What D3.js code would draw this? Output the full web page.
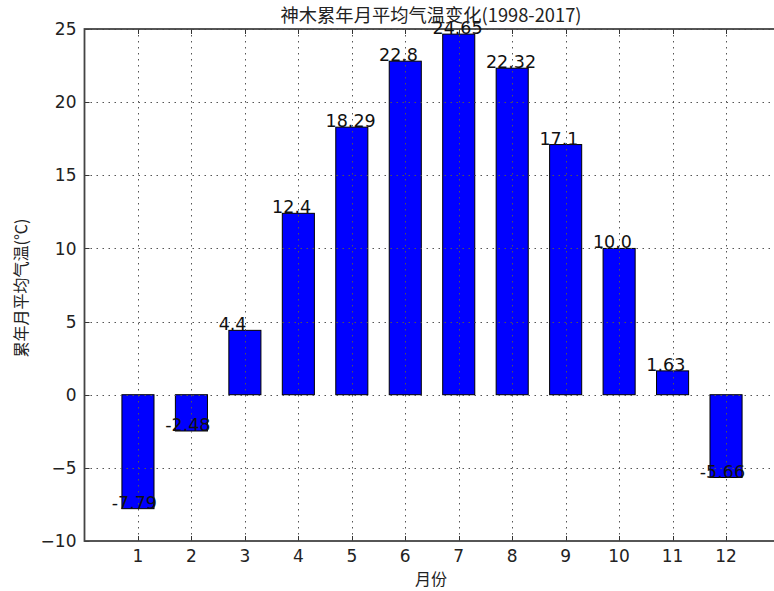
<!DOCTYPE html>
<html>
<head>
<meta charset="utf-8">
<script src="https://cdn.jsdelivr.net/npm/d3@7"></script>
<style>
	body { margin: 0; background: #fff; }
	svg { display: block; }
	.tick-label { font-family: "DejaVu Sans", sans-serif; font-size: 17px; fill: #222; }
	.value-label { font-family: "DejaVu Sans", sans-serif; font-size: 17.5px; fill: #111; }
	.cjk { font-family: "Noto Sans CJK SC", sans-serif; fill: #222; }
</style>
</head>
<body>
<script>
// monthly mean temperature, Shenmu 1998-2017
var months = [1, 2, 3, 4, 5, 6, 7, 8, 9, 10, 11, 12];
var temps = [-7.79, -2.48, 4.4, 12.4, 18.29, 22.8, 24.65, 22.32, 17.1, 10.0, 1.63, -5.66];
var tempLabels = ['-7.79', '-2.48', '4.4', '12.4', '18.29', '22.8', '24.65', '22.32', '17.1', '10.0', '1.63', '-5.66'];
var yTicks = [-10, -5, 0, 5, 10, 15, 20, 25];

var width = 774,
	height = 591;

var margin = {top: 29, right: -5.5, bottom: 50, left: 84.5};

var svg = d3.select('body').append('svg')
	.attr('width', width)
	.attr('height', height);

var x = d3.scaleLinear()
	.domain([0, 13])
	.range([margin.left, width - margin.right]);

var y = d3.scaleLinear()
	.domain([-10, 25])
	.range([height - margin.bottom, margin.top]);

var barWidth = 0.6;

var defs = svg.append('defs');
defs.append('clipPath').attr('id', 'plot')
	.append('rect')
	.attr('x', x(0)).attr('y', y(25))
	.attr('width', x(13) - x(0)).attr('height', y(-10) - y(25));

var plot = svg.append('g').attr('clip-path', 'url(#plot)');

// bars
plot.append('g').attr('class', 'bars').selectAll('rect')
	.data(temps)
	.enter().append('rect')
		.attr('x', function(d, i){ return x(months[i] - barWidth/2); })
		.attr('width', x(barWidth) - x(0))
		.attr('y', function(d){ return y(Math.max(0, d)); })
		.attr('height', function(d){ return Math.abs(y(d) - y(0)); })
		.attr('fill', '#0000ff')
		.attr('stroke', '#000')
		.attr('stroke-width', 1);

// dotted grid, drawn over the bars like the original
var grid = plot.append('g').attr('class', 'grid')
	.attr('stroke', '#555')
	.attr('stroke-width', 1)
	.attr('stroke-dasharray', '1.5,4.5');

grid.selectAll('line.gx').data(months).enter().append('line')
	.attr('class', 'gx')
	.attr('x1', function(d){ return Math.round(x(d)) + 0.5; })
	.attr('x2', function(d){ return Math.round(x(d)) + 0.5; })
	.attr('y1', y(25)).attr('y2', y(-10));

grid.selectAll('line.gy').data(yTicks).enter().append('line')
	.attr('class', 'gy')
	.attr('y1', function(d){ return Math.round(y(d)) + 0.5; })
	.attr('y2', function(d){ return Math.round(y(d)) + 0.5; })
	.attr('x1', x(0)).attr('x2', x(13));

// inward ticks on all sides
var ticks = svg.append('g').attr('class', 'ticks').attr('stroke', '#333').attr('stroke-width', 1);
var tickLen = 5;

months.forEach(function(m){
	var px = Math.round(x(m)) + 0.5;
	ticks.append('line').attr('x1', px).attr('x2', px).attr('y1', y(-10)).attr('y2', y(-10) - tickLen);
	ticks.append('line').attr('x1', px).attr('x2', px).attr('y1', y(25)).attr('y2', y(25) + tickLen);
});
yTicks.forEach(function(t){
	var py = Math.round(y(t)) + 0.5;
	ticks.append('line').attr('x1', x(0)).attr('x2', x(0) + tickLen).attr('y1', py).attr('y2', py);
	ticks.append('line').attr('x1', x(13)).attr('x2', x(13) - tickLen).attr('y1', py).attr('y2', py);
});

// axes frame
svg.append('rect')
	.attr('x', x(0)).attr('y', y(25))
	.attr('width', x(13) - x(0)).attr('height', y(-10) - y(25))
	.attr('fill', 'none')
	.attr('stroke', '#444')
	.attr('stroke-width', 1.8);

// value labels
svg.append('g').selectAll('text')
	.data(temps)
	.enter().append('text')
		.attr('class', 'value-label')
		.attr('x', function(d, i){ return x(months[i] - 0.5) + 0.5; })
		.attr('y', function(d){ return y(d); })
		.text(function(d, i){ return tempLabels[i]; });

// tick labels
svg.append('g').selectAll('text')
	.data(months)
	.enter().append('text')
		.attr('class', 'tick-label')
		.attr('x', function(d){ return x(d); })
		.attr('y', y(-10) + 21)
		.attr('text-anchor', 'middle')
		.text(function(d){ return d; });

svg.append('g').selectAll('text')
	.data(yTicks)
	.enter().append('text')
		.attr('class', 'tick-label')
		.attr('x', x(0) - 8)
		.attr('y', function(d){ return y(d); })
		.attr('dy', '0.36em')
		.attr('text-anchor', 'end')
		.text(function(d){ return d < 0 ? '\u2212' + Math.abs(d) : d; });

// title and axis titles
svg.append('text')
	.attr('class', 'cjk')
	.attr('x', 431)
	.attr('y', 22)
	.attr('text-anchor', 'middle')
	.style('font-size', '18.3px')
	.text('神木累年月平均气温变化(1998-2017)');

svg.append('text')
	.attr('class', 'cjk')
	.attr('x', 431)
	.attr('y', 585)
	.attr('text-anchor', 'middle')
	.style('font-size', '16px')
	.text('月份');

svg.append('text')
	.attr('class', 'cjk')
	.attr('transform', 'translate(27,288) rotate(-90)')
	.attr('text-anchor', 'middle')
	.style('font-size', '16px')
	.text('累年月平均气温(℃)');
</script>
</body>
</html>
